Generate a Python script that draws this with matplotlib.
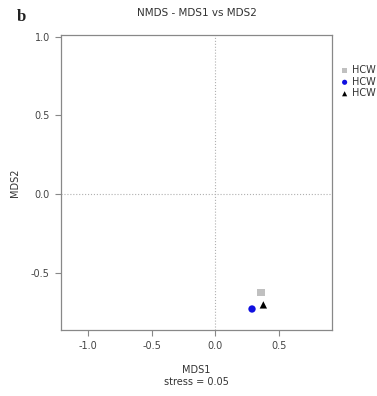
import matplotlib
matplotlib.use("Agg")
from matplotlib import pyplot as plt

# NMDS scores for the three samples
labels = ["HCW", "HCW", "HCW"]
mds1 = [0.359, 0.288, 0.377]
mds2 = [-0.62, -0.726, -0.70]
colors = ["#c0c0c0", "#1010e0", "#000000"]
markers = ["s", "o", "^"]
stress = 0.05

xticks = [-1.0, -0.5, 0.0, 0.5]
yticks = [-0.5, 0.0, 0.5, 1.0]

fig = plt.figure(figsize=(3.77, 3.96), dpi=100)
ax = fig.add_axes([0.1618, 0.1667, 0.7188, 0.745])

ax.axvline(0, color="#b0b0b0", linestyle=":", linewidth=0.8, zorder=1)
ax.axhline(0, color="#b0b0b0", linestyle=":", linewidth=0.8, zorder=1)

for i in range(len(labels)):
    ax.scatter(mds1[i], mds2[i], c=colors[i], marker=markers[i], s=28,
               edgecolors="none", zorder=3, label=labels[i])

ax.set_xlim(-1.212, 0.916)
ax.set_ylim(-0.859, 1.01)
ax.set_xticks(xticks)
ax.set_yticks(yticks)
ax.set_xticklabels(["%.1f" % t for t in xticks])
ax.set_yticklabels(["%.1f" % t for t in yticks])

for s in ax.spines.values():
    s.set_color("#888888")
    s.set_linewidth(0.9)
ax.tick_params(colors="#888888", labelcolor="#444444", labelsize=7,
               direction="out", length=4, width=0.8, pad=4)

ax.set_xlabel("MDS1\nstress = %.2f" % stress, fontsize=7, color="#333333",
              labelpad=10, linespacing=1.3)
ax.set_ylabel("MDS2", fontsize=7, color="#333333", labelpad=8)
ax.set_title("NMDS - MDS1 vs MDS2", fontsize=7.5, color="#333333", pad=14)

leg = ax.legend(loc="upper left", bbox_to_anchor=(1.0, 0.92), frameon=False,
                fontsize=7, handletextpad=0.2, borderaxespad=0.3,
                labelspacing=0.15, handlelength=1.2, markerscale=0.7)
for t in leg.get_texts():
    t.set_color("#333333")

fig.text(0.045, 0.958, "b", fontsize=12, family="Liberation Serif",
         fontweight="bold", color="#222222", va="center")

fig.savefig("out.png", dpi=100)
